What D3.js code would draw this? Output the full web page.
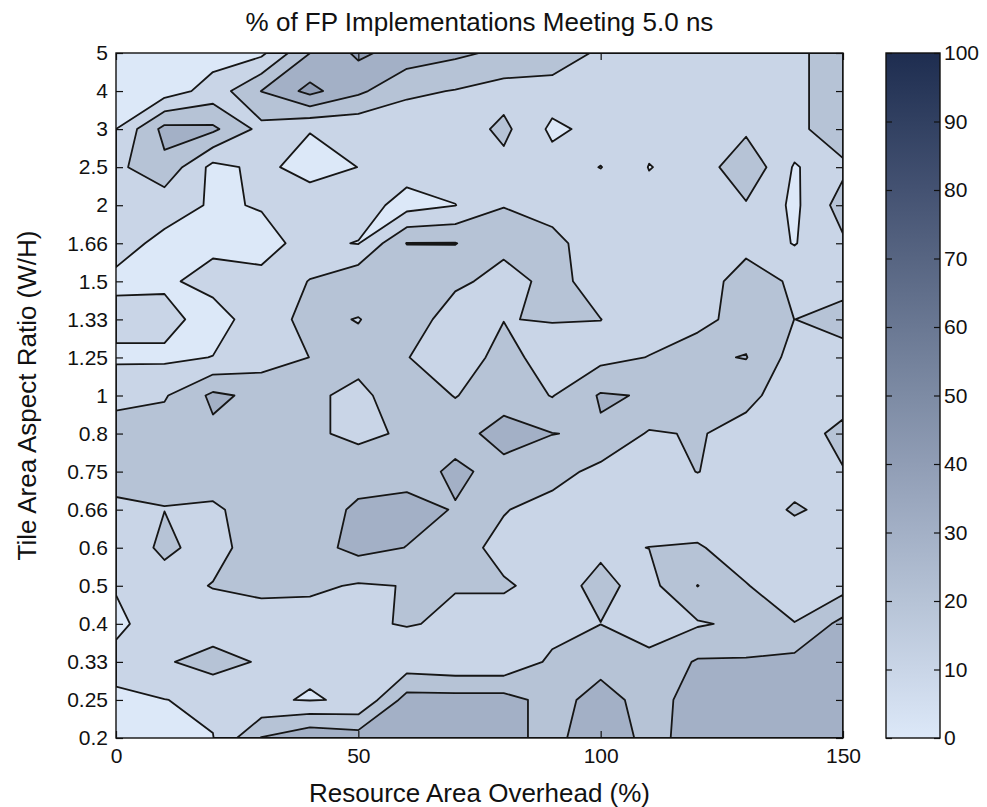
<!DOCTYPE html>
<html>
<head>
<meta charset="utf-8">
<script src="https://cdn.jsdelivr.net/npm/d3@7"></script>
<style>
  body { margin: 0; background: #fff; }
  svg text { font-family: "Liberation Sans", Arial, sans-serif; fill: #111; }
</style>
</head>
<body>
<svg id="chart" width="987" height="807"></svg>
<script>
// resource area overhead (%), one column each
const overhead = [0, 10, 20, 30, 40, 50, 60, 70, 80, 90, 100, 110, 120, 130, 140, 150];
// tile aspect ratio categories, bottom to top
const aspectLabels = ['0.2', '0.25', '0.33', '0.4', '0.5', '0.6', '0.66', '0.75', '0.8', '1',
  '1.25', '1.33', '1.5', '1.66', '2', '2.5', '3', '4', '5'];
const xTicks = [0, 50, 100, 150];
const levels = [0, 10, 20, 30, 40, 50, 60, 70, 80, 90];
const cbarTicks = [0, 10, 20, 30, 40, 50, 60, 70, 80, 90, 100];

// % of implementations meeting 5.0 ns, rows follow aspectLabels
const r00 = [5, 7, 9.7, 30.5, 38, 35, 36, 36, 34, 26, 39, 26, 35, 36, 36, 36];
const r01 = [7, 9.8, 12, 10.8, 9.6, 10.8, 34, 34, 34, 26, 34, 26, 34, 34, 34, 35];
const r02 = [15.5, 18.9, 24, 18.9, 11, 12, 14, 12, 12, 22, 26.5, 23, 31, 31, 33, 34];
const r03 = [6, 19.9, 14, 16, 15, 18.8, 20.5, 18.8, 16, 16, 19.9, 15, 19, 22, 20.3, 33];
const r04 = [11.3, 15.8, 20.5, 22, 22, 19, 20.3, 20.3, 21, 17, 22, 17, 30.2, 20.5, 14, 16];
const r05 = [13.3, 22, 16, 26, 26, 33, 29.8, 24, 17, 16, 18.7, 20.1, 21, 15, 14.8, 17];
const r06 = [18, 19.9, 18, 26, 27, 31, 33, 29.5, 20.6, 16, 17, 16, 13.4, 15, 21, 17];
const r07 = [24, 21, 27, 27, 26, 27.5, 26.5, 31.5, 27.5, 24, 17, 16, 20.2, 16, 16, 19.5];
const r08 = [23, 25, 28, 26, 22.2, 17, 21.8, 27, 33, 30.2, 28.8, 19, 20.75, 17, 15, 23];
const r09 = [18, 19, 32, 27.5, 22.2, 17, 27, 19.5, 26.6, 19.5, 31, 29.3, 25, 22.4, 15, 15];
const r10 = [8.2, 8.2, 10.2, 15, 20.1, 24, 20.3, 15, 23, 16, 17, 20.3, 28.5, 30.4, 16, 17];
const r11 = [13, 13, 6, 15, 23, 19.5, 28, 13, 19.8, 20.4, 20.1, 15, 15.5, 26, 19.95, 23];
const r12 = [8.2, 8.5, 13, 11.5, 20.5, 28, 21, 22.5, 16, 23, 16, 14, 13, 26, 18, 17];
const r13 = [13, 8, 8, 8, 12, 9.6, 30.3, 30.3, 23, 23, 14, 14, 15, 16, 9.5, 18.5];
const r14 = [14, 13.3, 9.2, 10.4, 16, 15, 6, 9.8, 19.8, 16, 12, 13, 14, 19, 8, 24.4];
const r15 = [17.5, 27.5, 7, 12.5, 6, 10.1, 14.5, 15, 17, 14, 20.3, 9.7, 13.5, 28, 9, 17.8];
const r16 = [10, 33, 32, 17, 10.5, 12, 13, 14, 22.4, 8, 13, 13, 13, 18, 17, 27];
const r17 = [4, 5, 14, 30.2, 43, 32, 22, 19.5, 16, 15, 14, 14, 14, 15, 17, 27];
const r18 = [4, 5, 6, 7.8, 29.9, 42, 35.7, 32, 28, 27, 18, 15, 14, 14, 17, 27];
const grid = [r00, r01, r02, r03, r04, r05, r06, r07, r08, r09,
  r10, r11, r12, r13, r14, r15, r16, r17, r18];

const svg = d3.select('#chart');
const pLeft = 116, pRight = 843, pTop = 53, pBottom = 738;
const nx = overhead.length, ny = aspectLabels.length;

let x = d3.scaleLinear().domain([overhead[0], overhead[nx - 1]]).range([pLeft, pRight]);
let y = d3.scaleLinear().domain([0, ny - 1]).range([pBottom, pTop]);
let colIdx = d3.scaleLinear().domain([0, nx - 1]).range([overhead[0], overhead[nx - 1]]);
let color = d3.scaleLinear().domain([0, 100]).range(['#dce8f8', '#1e2d50']).interpolate(d3.interpolateRgb);

svg.append('rect').attr('width', 987).attr('height', 807).attr('fill', '#fff');

let defs = svg.append('defs');
defs.append('clipPath').attr('id', 'plotclip')
  .append('rect').attr('x', pLeft).attr('y', pTop).attr('width', pRight - pLeft).attr('height', pBottom - pTop);

// contour fill
let values = [].concat(...grid);
let contours = d3.contours().size([nx, ny]).thresholds(levels)(values);

let clamp = (v, lo, hi) => Math.max(lo, Math.min(hi, v));
let toPlot = d3.geoTransform({
  point: function(px, py) {
    this.stream.point(x(colIdx(clamp(px - 0.5, 0, nx - 1))), y(clamp(py - 0.5, 0, ny - 1)));
  }
});
let path = d3.geoPath(toPlot);

svg.append('g').attr('clip-path', 'url(#plotclip)')
  .selectAll('path')
  .data(contours).enter()
  .append('path')
  .attr('d', path)
  .attr('fill', d => color(d.value))
  .attr('stroke', d => d.value === 0 ? 'none' : '#161616')
  .attr('stroke-width', 1.8)
  .attr('stroke-linejoin', 'round');

// axes
let yAxisL = d3.axisLeft(y).tickValues(d3.range(ny)).tickFormat(i => aspectLabels[i]).tickSize(-7).tickPadding(8);
let yAxisR = d3.axisRight(y).tickValues(d3.range(ny)).tickFormat('').tickSize(-7);
let xAxisB = d3.axisBottom(x).tickValues(xTicks).tickSize(-7).tickPadding(10);
let xAxisT = d3.axisTop(x).tickValues(xTicks).tickFormat('').tickSize(-7);

function styleAxis(g) {
  g.select('.domain').remove();
  g.selectAll('line').attr('stroke', '#111').attr('stroke-width', 1.2);
  g.selectAll('text').attr('font-size', 21).attr('fill', '#111')
    .attr('font-family', '"Liberation Sans", Arial, sans-serif');
}

svg.append('g').attr('transform', 'translate(' + pLeft + ',0)').call(yAxisL).call(styleAxis);
svg.append('g').attr('transform', 'translate(' + pRight + ',0)').call(yAxisR).call(styleAxis);
svg.append('g').attr('transform', 'translate(0,' + pBottom + ')').call(xAxisB).call(styleAxis);
svg.append('g').attr('transform', 'translate(0,' + pTop + ')').call(xAxisT).call(styleAxis);

svg.append('rect')
  .attr('x', pLeft).attr('y', pTop).attr('width', pRight - pLeft).attr('height', pBottom - pTop)
  .attr('fill', 'none').attr('stroke', '#111').attr('stroke-width', 1.4);

// titles
svg.append('text')
  .attr('x', (pLeft + pRight) / 2).attr('y', 31)
  .attr('text-anchor', 'middle').attr('font-size', 26)
  .text('% of FP Implementations Meeting 5.0 ns');

svg.append('text')
  .attr('x', (pLeft + pRight) / 2).attr('y', 802)
  .attr('text-anchor', 'middle').attr('font-size', 26)
  .text('Resource Area Overhead (%)');

svg.append('text')
  .attr('transform', 'translate(36,' + (pTop + pBottom) / 2 + ') rotate(-90)')
  .attr('text-anchor', 'middle').attr('font-size', 26)
  .text('Tile Area Aspect Ratio (W/H)');

// colorbar
const cbLeft = 886, cbRight = 940;
let c = d3.scaleLinear().domain([0, 100]).range([pBottom, pTop]);

let grad = defs.append('linearGradient')
  .attr('id', 'cbgrad').attr('x1', 0).attr('y1', 1).attr('x2', 0).attr('y2', 0);
cbarTicks.forEach(function(t) {
  grad.append('stop').attr('offset', (t / 100)).attr('stop-color', color(t));
});

svg.append('rect')
  .attr('x', cbLeft).attr('y', pTop).attr('width', cbRight - cbLeft).attr('height', pBottom - pTop)
  .attr('fill', 'url(#cbgrad)').attr('stroke', '#111').attr('stroke-width', 1.4);

svg.append('g').attr('transform', 'translate(' + cbRight + ',0)')
  .call(d3.axisRight(c).tickValues(cbarTicks).tickSize(-6).tickPadding(4))
  .call(styleAxis);
svg.append('g').attr('transform', 'translate(' + cbLeft + ',0)')
  .call(d3.axisLeft(c).tickValues(cbarTicks).tickFormat('').tickSize(-6))
  .call(styleAxis);
</script>
</body>
</html>
